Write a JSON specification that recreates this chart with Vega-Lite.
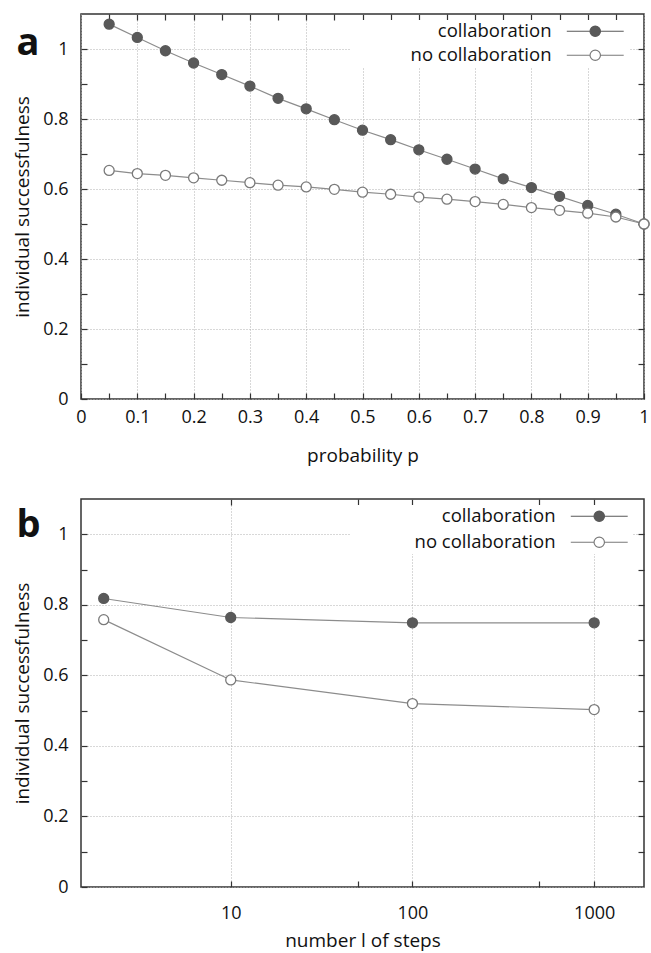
{
  "$schema": "https://vega.github.io/schema/vega-lite/v6.json",
  "background": "white",
  "padding": {"left": 12, "top": 12, "right": 5, "bottom": 0},
  "config": {
    "font": "Open Sans",
    "view": {"stroke": "#333", "strokeWidth": 1.5},
    "axis": {
      "domain": false,
      "labelFontSize": 18,
      "labelColor": "#111",
      "titleFontSize": 19,
      "titleFontWeight": "normal",
      "titleColor": "#111",
      "tickColor": "#333",
      "tickSize": -6,
      "tickWidth": 1.2,
      "gridColor": "#b0b0b0",
      "gridDash": [1, 2],
      "gridWidth": 1
    },
    "legend": {"padding": 2}
  },
  "datasets": {
    "a": [
      {"p": 0.05, "s": 1.071, "series": "collaboration"},
      {"p": 0.1, "s": 1.033, "series": "collaboration"},
      {"p": 0.15, "s": 0.995, "series": "collaboration"},
      {"p": 0.2, "s": 0.96, "series": "collaboration"},
      {"p": 0.25, "s": 0.927, "series": "collaboration"},
      {"p": 0.3, "s": 0.894, "series": "collaboration"},
      {"p": 0.35, "s": 0.859, "series": "collaboration"},
      {"p": 0.4, "s": 0.829, "series": "collaboration"},
      {"p": 0.45, "s": 0.798, "series": "collaboration"},
      {"p": 0.5, "s": 0.768, "series": "collaboration"},
      {"p": 0.55, "s": 0.741, "series": "collaboration"},
      {"p": 0.6, "s": 0.712, "series": "collaboration"},
      {"p": 0.65, "s": 0.685, "series": "collaboration"},
      {"p": 0.7, "s": 0.657, "series": "collaboration"},
      {"p": 0.75, "s": 0.629, "series": "collaboration"},
      {"p": 0.8, "s": 0.604, "series": "collaboration"},
      {"p": 0.85, "s": 0.579, "series": "collaboration"},
      {"p": 0.9, "s": 0.553, "series": "collaboration"},
      {"p": 0.95, "s": 0.528, "series": "collaboration"},
      {"p": 1.0, "s": 0.5, "series": "collaboration"},
      {"p": 0.05, "s": 0.653, "series": "no collaboration"},
      {"p": 0.1, "s": 0.644, "series": "no collaboration"},
      {"p": 0.15, "s": 0.639, "series": "no collaboration"},
      {"p": 0.2, "s": 0.632, "series": "no collaboration"},
      {"p": 0.25, "s": 0.625, "series": "no collaboration"},
      {"p": 0.3, "s": 0.618, "series": "no collaboration"},
      {"p": 0.35, "s": 0.611, "series": "no collaboration"},
      {"p": 0.4, "s": 0.606, "series": "no collaboration"},
      {"p": 0.45, "s": 0.599, "series": "no collaboration"},
      {"p": 0.5, "s": 0.591, "series": "no collaboration"},
      {"p": 0.55, "s": 0.585, "series": "no collaboration"},
      {"p": 0.6, "s": 0.577, "series": "no collaboration"},
      {"p": 0.65, "s": 0.571, "series": "no collaboration"},
      {"p": 0.7, "s": 0.564, "series": "no collaboration"},
      {"p": 0.75, "s": 0.556, "series": "no collaboration"},
      {"p": 0.8, "s": 0.547, "series": "no collaboration"},
      {"p": 0.85, "s": 0.539, "series": "no collaboration"},
      {"p": 0.9, "s": 0.531, "series": "no collaboration"},
      {"p": 0.95, "s": 0.52, "series": "no collaboration"},
      {"p": 1.0, "s": 0.5, "series": "no collaboration"}
    ],
    "b": [
      {"l": 2, "s": 0.818, "series": "collaboration"},
      {"l": 10, "s": 0.764, "series": "collaboration"},
      {"l": 100, "s": 0.749, "series": "collaboration"},
      {"l": 1000, "s": 0.749, "series": "collaboration"},
      {"l": 2, "s": 0.758, "series": "no collaboration"},
      {"l": 10, "s": 0.587, "series": "no collaboration"},
      {"l": 100, "s": 0.52, "series": "no collaboration"},
      {"l": 1000, "s": 0.503, "series": "no collaboration"}
    ]
  },
  "spacing": 31,
  "resolve": {
    "scale": {"fill": "independent", "stroke": "independent"},
    "legend": {"fill": "independent", "stroke": "independent"}
  },
  "vconcat": [
    {
      "width": 563,
      "height": 385,
      "data": {"name": "a"},
      "layer": [
        {
          "mark": {"type": "line", "color": "#8c8c8c", "strokeWidth": 1.2},
          "encoding": {
            "x": {"field": "p", "type": "quantitative", "scale": {"domain": [0, 1], "nice": false},
              "axis": {"orient": "bottom", "title": "probability p", "values": [0, 0.05, 0.1, 0.15, 0.2, 0.25, 0.3, 0.35, 0.4, 0.45, 0.5, 0.55, 0.6, 0.65, 0.7, 0.75, 0.8, 0.85, 0.9, 0.95, 1],
                "labelExpr": "round(datum.value*20) % 2 == 0 ? format(datum.value, '.1~f') : ''",
                "gridOpacity": {"condition": {"test": "round(datum.value*20) % 2 == 0", "value": 1}, "value": 0},
                "labelPadding": 15, "titlePadding": 20, "labelFlush": false, "labelOverlap": false}},
            "y": {"field": "s", "type": "quantitative", "scale": {"domain": [0, 1.1], "nice": false},
              "axis": {"orient": "left", "title": "individual successfulness", "values": [0, 0.1, 0.2, 0.3, 0.4, 0.5, 0.6, 0.7, 0.8, 0.9, 1],
                "labelExpr": "round(datum.value*10) % 2 == 0 ? format(datum.value, '.1~f') : ''",
                "gridOpacity": {"condition": {"test": "round(datum.value*10) % 2 == 0", "value": 1}, "value": 0},
                "labelPadding": 19, "titlePadding": 10, "labelOverlap": false}},
            "detail": {"field": "series"}
          }
        },
        {
          "mark": {"type": "point", "shape": "circle", "filled": true, "size": 100, "strokeWidth": 1.3, "opacity": 1},
          "encoding": {
            "x": {"field": "p", "type": "quantitative",
              "axis": {"orient": "top", "title": "a", "titleFontSize": 38, "titleFontWeight": "bold", "titleAngle": 0, "titleAlign": "left", "titleBaseline": "alphabetic", "titleX": -65, "titleY": 40,
                "labels": false, "grid": false, "values": [0.05, 0.1, 0.15, 0.2, 0.25, 0.3, 0.35, 0.4, 0.45, 0.5, 0.55, 0.6, 0.65, 0.7, 0.75, 0.8, 0.85, 0.9, 0.95]}},
            "y": {"field": "s", "type": "quantitative",
              "axis": {"orient": "right", "title": null, "labels": false, "grid": false, "values": [0.1, 0.2, 0.3, 0.4, 0.5, 0.6, 0.7, 0.8, 0.9, 1]}},
            "fill": {"field": "series", "type": "nominal", "scale": {"domain": ["collaboration", "no collaboration"], "range": ["#595959", "#ffffff"]},
              "legend": {"orient": "none", "legendX": 269, "legendY": 6, "title": null, "fillColor": "white", "symbolType": "M-6,0H-1.1M1.1,0H6M-1.1,0A1.1,1.1,0,1,1,1.1,0A1.1,1.1,0,1,1,-1.1,0Z", "symbolSize": 90, "symbolStrokeWidth": 1.2, "symbolOffset": 234, "labelAlign": "right", "labelOffset": -53, "labelFontSize": 18.5, "labelColor": "#111", "rowPadding": 5}},
            "stroke": {"field": "series", "type": "nominal", "scale": {"domain": ["collaboration", "no collaboration"], "range": ["#595959", "#7a7a7a"]},
              "legend": {"orient": "none", "legendX": 269, "legendY": 6, "title": null, "fillColor": "white", "symbolType": "M-6,0H-1.1M1.1,0H6M-1.1,0A1.1,1.1,0,1,1,1.1,0A1.1,1.1,0,1,1,-1.1,0Z", "symbolSize": 90, "symbolStrokeWidth": 1.2, "symbolOffset": 234, "labelAlign": "right", "labelOffset": -53, "labelFontSize": 18.5, "labelColor": "#111", "rowPadding": 5}}
          }
        }
      ],
      "resolve": {"axis": {"x": "independent", "y": "independent"}}
    },
    {
      "width": 563,
      "height": 388,
      "data": {"name": "b"},
      "layer": [
        {
          "mark": {"type": "line", "color": "#8c8c8c", "strokeWidth": 1.2},
          "encoding": {
            "x": {"field": "l", "type": "quantitative", "scale": {"type": "log", "domain": [1.5, 1880], "nice": false},
              "axis": {"orient": "bottom", "title": "number l of steps", "values": [10, 50, 100, 500, 1000],
                "labelExpr": "datum.value == 10 || datum.value == 100 || datum.value == 1000 ? format(datum.value, 'd') : ''",
                "gridOpacity": {"condition": {"test": "datum.value == 10 || datum.value == 100 || datum.value == 1000", "value": 1}, "value": 0},
                "labelPadding": 23, "titlePadding": 9, "labelFlush": false, "labelOverlap": false}},
            "y": {"field": "s", "type": "quantitative", "scale": {"domain": [0, 1.1], "nice": false},
              "axis": {"orient": "left", "title": "individual successfulness", "values": [0, 0.1, 0.2, 0.3, 0.4, 0.5, 0.6, 0.7, 0.8, 0.9, 1],
                "labelExpr": "round(datum.value*10) % 2 == 0 ? format(datum.value, '.1~f') : ''",
                "gridOpacity": {"condition": {"test": "round(datum.value*10) % 2 == 0", "value": 1}, "value": 0},
                "labelPadding": 19, "titlePadding": 10, "labelOverlap": false}},
            "detail": {"field": "series"}
          }
        },
        {
          "mark": {"type": "point", "shape": "circle", "filled": true, "size": 100, "strokeWidth": 1.3, "opacity": 1},
          "encoding": {
            "x": {"field": "l", "type": "quantitative",
              "axis": {"orient": "top", "title": "b", "titleFontSize": 38, "titleFontWeight": "bold", "titleAngle": 0, "titleAlign": "left", "titleBaseline": "alphabetic", "titleX": -65, "titleY": 37,
                "labels": false, "grid": false, "values": [10, 50, 100, 500, 1000]}},
            "y": {"field": "s", "type": "quantitative",
              "axis": {"orient": "right", "title": null, "labels": false, "grid": false, "values": [0.1, 0.2, 0.3, 0.4, 0.5, 0.6, 0.7, 0.8, 0.9, 1]}},
            "fill": {"field": "series", "type": "nominal", "scale": {"domain": ["collaboration", "no collaboration"], "range": ["#595959", "#ffffff"]},
              "legend": {"orient": "none", "legendX": 269, "legendY": 6, "title": null, "fillColor": "white", "symbolType": "M-6,0H-1.1M1.1,0H6M-1.1,0A1.1,1.1,0,1,1,1.1,0A1.1,1.1,0,1,1,-1.1,0Z", "symbolSize": 90, "symbolStrokeWidth": 1.2, "symbolOffset": 238, "labelAlign": "right", "labelOffset": -53, "labelFontSize": 18.5, "labelColor": "#111", "rowPadding": 7}},
            "stroke": {"field": "series", "type": "nominal", "scale": {"domain": ["collaboration", "no collaboration"], "range": ["#595959", "#7a7a7a"]},
              "legend": {"orient": "none", "legendX": 269, "legendY": 6, "title": null, "fillColor": "white", "symbolType": "M-6,0H-1.1M1.1,0H6M-1.1,0A1.1,1.1,0,1,1,1.1,0A1.1,1.1,0,1,1,-1.1,0Z", "symbolSize": 90, "symbolStrokeWidth": 1.2, "symbolOffset": 238, "labelAlign": "right", "labelOffset": -53, "labelFontSize": 18.5, "labelColor": "#111", "rowPadding": 7}}
          }
        }
      ],
      "resolve": {"axis": {"x": "independent", "y": "independent"}}
    }
  ]
}
